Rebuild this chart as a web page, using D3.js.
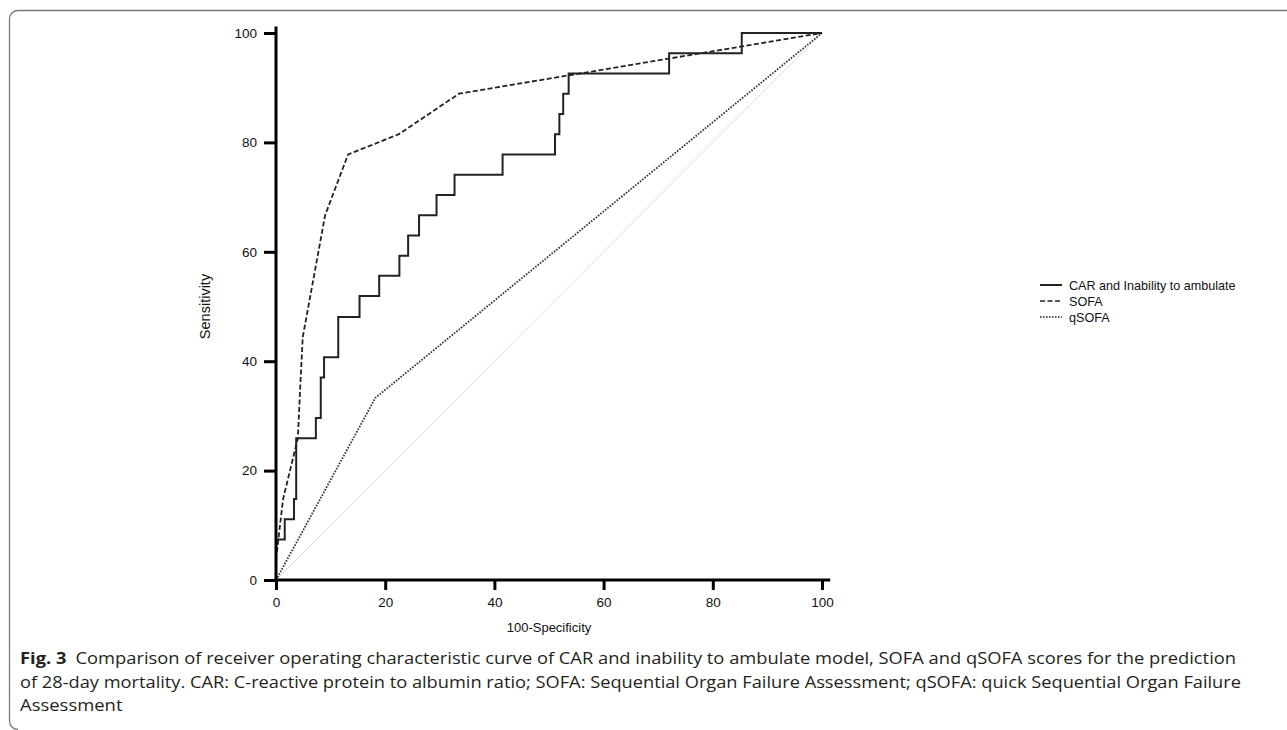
<!DOCTYPE html>
<html>
<head>
<meta charset="utf-8">
<script src="https://cdn.jsdelivr.net/npm/d3@7"></script>
<style>
  html, body { margin: 0; padding: 0; background: #fff; }
  svg { display: block; }
</style>
</head>
<body>
<svg id="chart" width="1287" height="730"></svg>
<script>
// ---- data ----
const carFpr   = [0, 0, 1.6, 3.3, 3.7, 7.3, 8.2, 8.8, 11.4, 15.3, 18.9, 22.6, 24.2, 26.2, 29.4, 32.7, 41.5, 51.1, 51.9, 52.6, 53.6, 72.0, 85.3, 100];
const carTpr   = [0, 7.4, 11.1, 14.8, 25.9, 29.6, 37.0, 40.7, 48.1, 51.9, 55.6, 59.3, 63.0, 66.7, 70.4, 74.1, 77.8, 81.5, 85.2, 88.9, 92.6, 96.3, 100, 100];
const sofaFpr  = [0, 1.3, 4.0, 4.5, 4.9, 9.0, 13.2, 22.5, 33.5, 100];
const sofaTpr  = [3.7, 14.8, 25.9, 36.6, 44.4, 66.7, 77.8, 81.5, 88.9, 100];
const qsofaFpr = [0, 18.2, 100];
const qsofaTpr = [0, 33.3, 100];
const refFpr   = [0, 100];
const refTpr   = [0, 100];
const xTicks   = [0, 20, 40, 60, 80, 100];
const yTicks   = [0, 20, 40, 60, 80, 100];
const legendLabels = ["CAR and Inability to ambulate", "SOFA", "qSOFA"];
const xTitle = "100-Specificity";
const yTitle = "Sensitivity";
const captionBold = "Fig. 3";
const captionLines = [
  "Comparison of receiver operating characteristic curve of CAR and inability to ambulate model, SOFA and qSOFA scores for the prediction",
  "of 28-day mortality. CAR: C-reactive protein to albumin ratio; SOFA: Sequential Organ Failure Assessment; qSOFA: quick Sequential Organ Failure",
  "Assessment"
];

// ---- drawing ----
const svg = d3.select("#chart");
const font = "'Liberation Sans', Arial, sans-serif";

// frame
svg.append("path")
  .attr("d", "M1287,10.5 H18 A8.5,8.5 0 0 0 9.5,18.5 V721 A8.5,8.5 0 0 0 18,729.5")
  .attr("fill", "none").attr("stroke", "#7a7a7a").attr("stroke-width", 1.3);

const x = d3.scaleLinear().domain([0, 100]).range([276, 822]);
const y = d3.scaleLinear().domain([0, 100]).range([580, 33]);

const g = svg.append("g");

const toPts = (xs, ys) => xs.map((v, i) => [v, ys[i]]);
const lineLin = d3.line().x(d => x(d[0])).y(d => y(d[1]));
const lineStep = d3.line().x(d => x(d[0])).y(d => y(d[1])).curve(d3.curveStepAfter);

// reference diagonal
g.append("path").attr("d", lineLin(toPts(refFpr, refTpr)))
  .attr("fill", "none").attr("stroke", "#dcdcdc").attr("stroke-width", 1);

g.append("path").attr("d", lineLin(toPts(qsofaFpr, qsofaTpr)))
  .attr("fill", "none").attr("stroke", "#333").attr("stroke-width", 1.8)
  .attr("stroke-dasharray", "1.6,1.4");

g.append("path").attr("d", lineLin(toPts(sofaFpr, sofaTpr)))
  .attr("fill", "none").attr("stroke", "#222").attr("stroke-width", 1.8)
  .attr("stroke-dasharray", "5,2.5");

g.append("path").attr("d", lineStep(toPts(carFpr, carTpr)))
  .attr("fill", "none").attr("stroke", "#222").attr("stroke-width", 2);

// axes
const xAxis = d3.axisBottom(x).tickValues(xTicks).tickSize(10).tickPadding(7).tickFormat(d3.format("d"));
const yAxis = d3.axisLeft(y).tickValues(yTicks).tickSize(12).tickPadding(7).tickFormat(d3.format("d"));

const gx = svg.append("g").attr("transform", "translate(0,580)").call(xAxis);
const gy = svg.append("g").attr("transform", "translate(276,0)").call(yAxis);

[gx, gy].forEach(a => {
  a.select(".domain").remove();
  a.selectAll(".tick line").attr("stroke", "#000").attr("stroke-width", 3);
  a.selectAll(".tick text").attr("fill", "#111").style("font-family", font).style("font-size", "13.5px");
});

// axis lines (slightly extended like the reference)
svg.append("line").attr("x1", x(0) - 1.5).attr("x2", x(101.5)).attr("y1", y(0)).attr("y2", y(0))
  .attr("stroke", "#000").attr("stroke-width", 3);
svg.append("line").attr("x1", x(0)).attr("x2", x(0)).attr("y1", y(0) + 1.5).attr("y2", y(101.2))
  .attr("stroke", "#000").attr("stroke-width", 3);

// axis titles
svg.append("text").attr("x", (x(0) + x(100)) / 2).attr("y", 632).attr("text-anchor", "middle")
  .style("font-family", font).style("font-size", "13px").attr("fill", "#111").text(xTitle);
svg.append("text").attr("transform", `translate(210,${(y(0) + y(100)) / 2}) rotate(-90)`)
  .attr("text-anchor", "middle").style("font-family", font).style("font-size", "14.5px")
  .attr("fill", "#111").text(yTitle);

// legend
const legendDash = [null, "5,2.5", "1.6,1.4"];
const leg = svg.append("g").attr("transform", "translate(1040,285)");
legendLabels.forEach((lab, i) => {
  const row = leg.append("g").attr("transform", `translate(0,${i * 16})`);
  row.append("line").attr("x1", 0).attr("x2", 22).attr("y1", 0).attr("y2", 0)
    .attr("stroke", "#222").attr("stroke-width", i === 0 ? 2 : 1.6)
    .attr("stroke-dasharray", legendDash[i]);
  row.append("text").attr("x", 29).attr("y", 4.5)
    .style("font-family", font).style("font-size", "12.6px").attr("fill", "#111").text(lab);
});

// caption
const capFont = "'Open Sans', 'Noto Sans', sans-serif";
const capY = [664, 688, 711];
const capLen = [1216, 1221, null];
const capNodes = [];
captionLines.forEach((line, i) => {
  const t = svg.append("text").attr("x", 20).attr("y", capY[i])
    .style("font-family", capFont).style("font-size", "16px").attr("fill", "#231f20");
  if (i === 0) {
    t.append("tspan").style("font-weight", "bold").text(captionBold);
    t.append("tspan").attr("dx", 8).text(line);
  } else {
    t.text(line);
  }
  capNodes.push(t);
});
// uniform horizontal fitting so that the caption lines end where the reference's do
const nat0 = capNodes[0].node().getComputedTextLength();
const k = capLen[0] / nat0;
capNodes.forEach((t, i) => {
  const target = capLen[i] || t.node().getComputedTextLength() * k;
  t.attr("textLength", target).attr("lengthAdjust", "spacingAndGlyphs");
});
</script>
</body>
</html>
